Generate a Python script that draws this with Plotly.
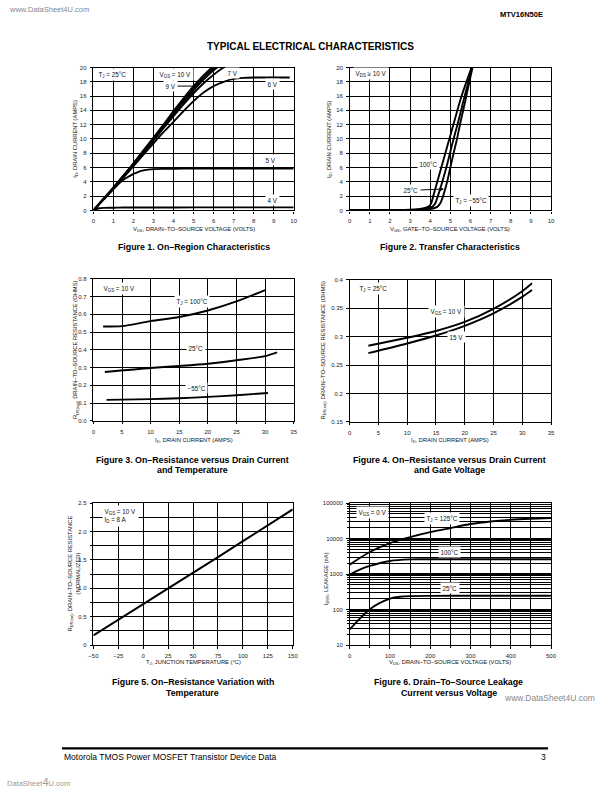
import math
import plotly.graph_objects as go

FONT = "Liberation Sans, Arial, Helvetica, sans-serif"
W, H = 612, 792

# ---------------- DATA ----------------
# Figure 1: On-Region Characteristics (VDS volts -> ID amps)
f1_vds = [0, 0.5, 1, 1.5, 2, 2.5, 3, 3.5, 4, 4.5, 5, 5.5, 6, 6.5, 7]
f1_id_10v = [0, 1.6, 3.2, 4.9, 6.6, 8.4, 10.2, 12.0, 13.9, 15.7, 17.4, 18.9, 20.2, 21.2]
f1_id_9v = [0, 1.6, 3.2, 4.85, 6.5, 8.3, 10.1, 11.85, 13.7, 15.45, 17.1, 18.6, 19.9, 21.0]
f1_id_8v = [0, 1.6, 3.15, 4.8, 6.45, 8.2, 9.95, 11.7, 13.5, 15.2, 16.8, 18.3, 19.6, 20.7]
f1_id_7v = [0, 1.55, 3.1, 4.75, 6.4, 8.1, 9.8, 11.5, 13.2, 14.85, 16.4, 17.8, 19.0, 20.0, 20.8]
f1_vds_6v = [0, 0.5, 1, 1.5, 2, 2.5, 3, 3.5, 4, 4.5, 5, 5.5, 6, 6.5, 7, 7.5, 8, 9, 9.8]
f1_id_6v = [0, 1.5, 3.0, 4.6, 6.2, 7.8, 9.4, 10.95, 12.4, 13.9, 15.3, 16.5, 17.4, 18.0, 18.4, 18.55, 18.6, 18.6, 18.6]
f1_vds_5v = [0, 0.5, 1, 1.5, 1.8, 2, 2.25, 2.5, 3, 3.5, 4, 5, 6, 7, 8, 9, 10]
f1_id_5v = [0, 1.5, 3.0, 4.3, 4.8, 5.1, 5.4, 5.6, 5.78, 5.82, 5.84, 5.85, 5.85, 5.85, 5.85, 5.85, 5.85]
f1_vds_4v = [0, 0.15, 0.3, 0.5, 1, 1.5, 2, 3, 5, 7, 10]
f1_id_4v = [0, 0.2, 0.3, 0.35, 0.38, 0.4, 0.4, 0.41, 0.42, 0.43, 0.43]

# Figure 2: Transfer Characteristics (VGS volts -> ID amps)
f2_vgs_100 = [0, 1, 2, 3, 3.5, 3.75, 3.9, 4.05, 4.15, 4.35, 4.55, 4.75, 5.0, 5.25, 5.5, 5.8, 6.05]
f2_id_100 = [0.05, 0.05, 0.06, 0.1, 0.2, 0.35, 0.5, 1.0, 2.0, 4.0, 6.0, 8.0, 10.5, 13.0, 15.5, 18.0, 20.0]
f2_vgs_25 = [0, 1, 2, 3, 3.5, 3.9, 4.1, 4.25, 4.38, 4.6, 4.8, 4.98, 5.16, 5.4, 5.62, 5.85, 6.08]
f2_id_25 = [0.04, 0.04, 0.05, 0.07, 0.15, 0.3, 0.5, 1.0, 2.0, 4.0, 6.0, 8.0, 10.0, 12.5, 15.0, 17.5, 20.0]
f2_vgs_m55 = [0, 1, 2, 3, 3.5, 4.0, 4.35, 4.5, 4.64, 4.84, 5.0, 5.16, 5.33, 5.5, 5.7, 5.9, 6.1]
f2_id_m55 = [0.03, 0.03, 0.04, 0.05, 0.08, 0.2, 0.5, 1.0, 2.0, 4.0, 6.0, 8.0, 10.0, 12.3, 14.8, 17.4, 20.0]

# Figure 3: RDS(on) vs ID and temperature
f3_id_100 = [1.7, 5, 10, 15, 20, 25, 30]
f3_r_100 = [0.532, 0.534, 0.562, 0.585, 0.622, 0.673, 0.737]
f3_id_25 = [2, 10, 15, 20, 25, 30, 32.1]
f3_r_25 = [0.275, 0.298, 0.309, 0.322, 0.341, 0.365, 0.386]
f3_id_m55 = [2.3, 10, 15, 20, 25, 30.5]
f3_r_m55 = [0.118, 0.122, 0.127, 0.135, 0.144, 0.157]

# Figure 4: RDS(on) vs ID and gate voltage
f4_id = [3.25, 10, 15, 20, 25, 30, 31.7]
f4_r_10v = [0.284, 0.298, 0.310, 0.326, 0.349, 0.380, 0.394]
f4_r_15v = [0.271, 0.288, 0.302, 0.319, 0.341, 0.370, 0.382]

# Figure 5: normalized RDS(on) vs TJ
f5_tj = [-50, -25, 0, 25, 50, 75, 100, 125, 150]
f5_r = [0.17, 0.44, 0.72, 1.0, 1.27, 1.55, 1.83, 2.11, 2.39]

# Figure 6: IDSS leakage vs VDS
f6_vds_125 = [0, 50, 100, 150, 200, 250, 300, 350, 400, 450, 500]
f6_i_125 = [1850, 4200, 7500, 11100, 15300, 19900, 25800, 30500, 34000, 36300, 38000]
f6_vds_100 = [0, 25, 50, 100, 150, 200, 300, 400, 500]
f6_i_100 = [970, 1350, 1700, 2350, 2600, 2620, 2630, 2630, 2630]
f6_vds_25 = [0, 25, 50, 75, 100, 125, 150, 200, 300, 400, 500]
f6_i_25 = [27.6, 56, 103, 155, 205, 230, 240, 244, 245, 245, 245]

# Tick values / labels
t_0_10 = list(range(0, 11))
t_0_20 = list(range(0, 21, 2))
t_0_35 = list(range(0, 36, 5))
f3_yticks = [0.0, 0.1, 0.2, 0.3, 0.4, 0.5, 0.6, 0.7, 0.8]
f3_ylabels = ["0.0", "0.1", "0.2", "0.3", "0.4", "0.5", "0.6", "0.7", "0.8"]
f4_yticks = [0.15, 0.2, 0.25, 0.3, 0.35, 0.4]
f4_ylabels = ["0.15", "0.2", "0.25", "0.3", "0.35", "0.4"]
f5_xticks = [-50, -25, 0, 25, 50, 75, 100, 125, 150]
f5_yticks = [0, 0.5, 1.0, 1.5, 2.0, 2.5]
f5_ylabels = ["0", "0.5", "1.0", "1.5", "2.0", "2.5"]
f6_xticks = [0, 100, 200, 300, 400, 500]
f6_yticks = [10, 100, 1000, 10000, 100000]
f6_ylabels = ["10", "100", "1000", "10000", "100000"]

# ---------------- LAYOUT HELPERS ----------------
def px(x):
    return x / W

def py(y):
    return 1 - y / H

GRID_MINOR = dict(showgrid=True, gridcolor="black", gridwidth=1, ticks="outside",
                  ticklen=2, tickcolor="black")

def axis(domain, rng, tickvals, ticktext=None, anchor=None, log=False, minor=None, gw=1):
    d = dict(domain=domain, range=rng, tickvals=tickvals,
             showline=True, linecolor="black", linewidth=1.3, mirror=True,
             showgrid=True, gridcolor="black", gridwidth=gw,
             zeroline=False, ticks="outside", ticklen=2.5, tickwidth=1,
             tickcolor="black", ticklabelstandoff=2,
             tickfont=dict(size=6, color="#222", family=FONT),
             fixedrange=True, anchor=anchor)
    if ticktext is not None:
        d["ticktext"] = ticktext
    if log:
        d["type"] = "log"
    if minor is not None:
        m = dict(GRID_MINOR)
        m.update(minor)
        d["minor"] = m
    return d

# plot areas in pixels
P1 = (90, 294, 65, 209)
P2 = (351, 556, 65, 209)
P3 = (90, 294, 278, 421)
P4 = (351, 556, 279, 422)
P5 = (90, 293, 504, 647)
P6 = (351, 556, 504, 647)

def dom(p):
    return [px(p[0]), px(p[1])], [py(p[3]), py(p[2])]

fig = go.Figure()

def line(x, y, xa, ya, shape="spline", w=1.9):
    fig.add_trace(go.Scatter(x=x, y=y, xaxis=xa, yaxis=ya, mode="lines",
                             line=dict(color="black", width=w, shape=shape, smoothing=0.8),
                             hoverinfo="skip", showlegend=False))

# Figure 1
line(f1_vds[:len(f1_id_10v)], f1_id_10v, "x", "y")
line(f1_vds[:len(f1_id_9v)], f1_id_9v, "x", "y")
line(f1_vds[:len(f1_id_8v)], f1_id_8v, "x", "y")
line(f1_vds[:len(f1_id_7v)], f1_id_7v, "x", "y")
line(f1_vds_6v, f1_id_6v, "x", "y")
line(f1_vds_5v, f1_id_5v, "x", "y")
line(f1_vds_4v, f1_id_4v, "x", "y")
# Figure 2
line(f2_vgs_100, f2_id_100, "x2", "y2")
line(f2_vgs_25, f2_id_25, "x2", "y2")
line(f2_vgs_m55, f2_id_m55, "x2", "y2")
# Figure 3
line(f3_id_100, f3_r_100, "x3", "y3")
line(f3_id_25, f3_r_25, "x3", "y3")
line(f3_id_m55, f3_r_m55, "x3", "y3")
# Figure 4
line(f4_id, f4_r_10v, "x4", "y4")
line(f4_id, f4_r_15v, "x4", "y4")
# Figure 5
line(f5_tj, f5_r, "x5", "y5", shape="linear", w=2)
# Figure 6
line(f6_vds_125, f6_i_125, "x6", "y6")
line(f6_vds_100, f6_i_100, "x6", "y6")
line(f6_vds_25, f6_i_25, "x6", "y6")

d1x, d1y = dom(P1)
d2x, d2y = dom(P2)
d3x, d3y = dom(P3)
d4x, d4y = dom(P4)
d5x, d5y = dom(P5)
d6x, d6y = dom(P6)

layout = dict(
    width=W, height=H, margin=dict(l=0, r=0, t=0, b=0),
    paper_bgcolor="white", plot_bgcolor="white", showlegend=False,
    font=dict(family=FONT, color="#111"),
    xaxis=axis(d1x, [0, 10], t_0_10, anchor="y"),
    yaxis=axis(d1y, [0, 20], t_0_20, anchor="x"),
    xaxis2=axis(d2x, [0, 10], t_0_10, anchor="y2"),
    yaxis2=axis(d2y, [0, 20], t_0_20, anchor="x2"),
    xaxis3=axis(d3x, [0, 35], t_0_35, anchor="y3"),
    yaxis3=axis(d3y, [0, 0.8], f3_yticks, f3_ylabels, anchor="x3"),
    xaxis4=axis(d4x, [0, 35], t_0_35, anchor="y4"),
    yaxis4=axis(d4y, [0.15, 0.4], f4_yticks, f4_ylabels, anchor="x4"),
    xaxis5=axis(d5x, [-50, 150], f5_xticks, anchor="y5"),
    yaxis5=axis(d5y, [0, 2.5], f5_yticks, f5_ylabels, anchor="x5",
                minor=dict(tick0=0, dtick=0.25)),
    xaxis6=axis(d6x, [0, 500], f6_xticks, anchor="y6",
                minor=dict(tick0=0, dtick=50)),
    yaxis6=axis(d6y, [1, 5], f6_yticks, f6_ylabels, anchor="x6", log=True,
                minor=dict(dtick="D1"), gw=1.7),
)

ann = []

def lab(text, x, y, xref, yref, size=6.3, bg="white", **kw):
    a = dict(text=text, x=x, y=y, xref=xref, yref=yref, showarrow=False,
             font=dict(size=size, color="#111", family=FONT),
             bgcolor=bg, borderpad=1.5)
    a.update(kw)
    ann.append(a)

def ptext(text, x, y, size=6, bold=False, angle=0, xanchor="center", color="#111", **kw):
    if bold:
        text = "<b>" + text + "</b>"
    a = dict(text=text, x=px(x), y=py(y), xref="paper", yref="paper", showarrow=False,
             xanchor=xanchor, yanchor="middle", textangle=angle,
             font=dict(size=size, color=color, family=FONT))
    a.update(kw)
    ann.append(a)

# Fig1 labels
lab("T<sub>J</sub> = 25°C", 0.95, 19.0, "x", "y")
lab("V<sub>GS</sub> = 10 V", 4.1, 19.0, "x", "y")
ann.append(dict(text="9 V", x=5.05, y=17.4, ax=3.85, ay=17.4, xref="x", yref="y",
                axref="x", ayref="y", showarrow=True, arrowhead=0, arrowwidth=1,
                arrowcolor="black", bgcolor="white", borderpad=1.5,
                font=dict(size=6.3, color="#111", family=FONT)))
lab("7 V", 6.95, 19.3, "x", "y")
lab("6 V", 8.95, 17.7, "x", "y")
lab("5 V", 8.85, 7.0, "x", "y")
lab("4 V", 8.95, 1.5, "x", "y")
# Fig2 labels
lab("V<sub>DS</sub> ≥ 10 V", 1.05, 19.1, "x2", "y2")
lab("100°C", 3.9, 6.5, "x2", "y2")
ann.append(dict(text="25°C", x=4.68, y=3.0, ax=3.05, ay=2.8, xref="x2", yref="y2",
                axref="x2", ayref="y2", showarrow=True, arrowhead=2, arrowsize=0.8,
                arrowwidth=1, arrowcolor="black", bgcolor="white", borderpad=1.5,
                font=dict(size=6.3, color="#111", family=FONT)))
lab("T<sub>J</sub> = −55°C", 6.05, 1.4, "x2", "y2")
# Fig3 labels
lab("V<sub>GS</sub> = 10 V", 4.5, 0.745, "x3", "y3")
lab("T<sub>J</sub> = 100°C", 17.2, 0.672, "x3", "y3")
lab("25°C", 17.9, 0.41, "x3", "y3")
lab("−55°C", 18.0, 0.187, "x3", "y3")
# Fig4 labels
lab("T<sub>J</sub> = 25°C", 4.2, 0.384, "x4", "y4")
lab("V<sub>GS</sub> = 10 V", 16.8, 0.345, "x4", "y4")
lab("15 V", 18.5, 0.30, "x4", "y4")
# Fig5 labels
lab("V<sub>GS</sub> = 10 V<br>I<sub>D</sub> = 8 A", -22.5, 2.27, "x5", "y5", align="left")
# Fig6 labels (log axis: y in log10 units)
lab("V<sub>GS</sub> = 0 V", 56, math.log10(56000), "x6", "y6")
lab("T<sub>J</sub> = 125°C", 230, math.log10(38000), "x6", "y6")
lab("100°C", 248, math.log10(4200), "x6", "y6")
lab("25°C", 250, math.log10(410), "x6", "y6")

# Axis titles
ptext("V<sub>DS</sub>, DRAIN–TO–SOURCE VOLTAGE (VOLTS)", 192, 228, size=5.8)
ptext("I<sub>D</sub>, DRAIN CURRENT (AMPS)", 72, 137, size=5.8, angle=-90)
ptext("V<sub>GS</sub>, GATE–TO–SOURCE VOLTAGE (VOLTS)", 453, 228, size=5.8)
ptext("I<sub>D</sub>, DRAIN CURRENT (AMPS)", 331, 137, size=5.8, angle=-90)
ptext("I<sub>D</sub>, DRAIN CURRENT (AMPS)", 192, 441, size=5.8)
ptext("R<sub>DS(on)</sub>, DRAIN–TO–SOURCE RESISTANCE (OHMS)", 72, 349, size=5.8, angle=-90)
ptext("I<sub>D</sub>, DRAIN CURRENT (AMPS)", 453, 441, size=5.8)
ptext("R<sub>DS(on)</sub>, DRAIN–TO–SOURCE RESISTANCE (OHMS)", 324, 350, size=5.8, angle=-90)
ptext("T<sub>J</sub>, JUNCTION TEMPERATURE (°C)", 192, 665, size=5.8)
ptext("R<sub>DS(on)</sub>, DRAIN–TO–SOURCE RESISTANCE<br>(NORMALIZED)", 70, 575, size=5.8, angle=-90)
ptext("V<sub>DS</sub>, DRAIN–TO–SOURCE VOLTAGE (VOLTS)", 453, 665, size=5.8)
ptext("I<sub>DSS</sub>, LEAKAGE (nA)", 327.5, 580, size=5.8, angle=-90)

# Captions
CAP = 8.8
ptext("Figure 1. On–Region Characteristics", 192, 246, size=CAP, bold=True, color="black")
ptext("Figure 2. Transfer Characteristics", 453, 246, size=CAP, bold=True, color="black")
ptext("Figure 3. On–Resistance versus Drain Current", 191, 460, size=CAP, bold=True, color="black")
ptext("and Temperature", 191, 471, size=CAP, bold=True, color="black")
ptext("Figure 4. On–Resistance versus Drain Current", 453, 460, size=CAP, bold=True, color="black")
ptext("and Gate Voltage", 453, 471, size=CAP, bold=True, color="black")
ptext("Figure 5. On–Resistance Variation with", 191, 684, size=CAP, bold=True, color="black")
ptext("Temperature", 191, 695, size=CAP, bold=True, color="black")
ptext("Figure 6. Drain–To–Source Leakage", 452, 684, size=CAP, bold=True, color="black")
ptext("Current versus Voltage", 452, 695, size=CAP, bold=True, color="black")

# Page texts
ptext("www.DataSheet4U.com", 2, 7, size=7.5, xanchor="left", color="#888")
ptext("MTV16N50E", 550, 12, size=7.5, bold=True, xanchor="right", color="black")
ptext("TYPICAL ELECTRICAL CHARACTERISTICS", 311, 44, size=10, bold=True, color="black")
ptext("www.DataSheet4U.com", 506, 700, size=8.5, xanchor="left", color="#888")
ptext("Motorola TMOS Power MOSFET Transistor Device Data", 58, 760, size=8.5, xanchor="left", color="black")
ptext("3", 553, 760, size=8.5, xanchor="right", color="black")
ptext("DataSheet<span style='font-size:11px'>4</span>U.com", 0, 785, size=7.5, xanchor="left", color="#999")

layout["annotations"] = ann
layout["shapes"] = [dict(type="line", xref="paper", yref="paper", x0=px(58), x1=px(553),
                         y0=py(751), y1=py(751), line=dict(color="black", width=2.2))]

fig.update_layout(**layout)
fig.write_html("out.html", config={"displayModeBar": False},
               post_script="document.body.style.margin='0';document.body.style.overflow='hidden';")
